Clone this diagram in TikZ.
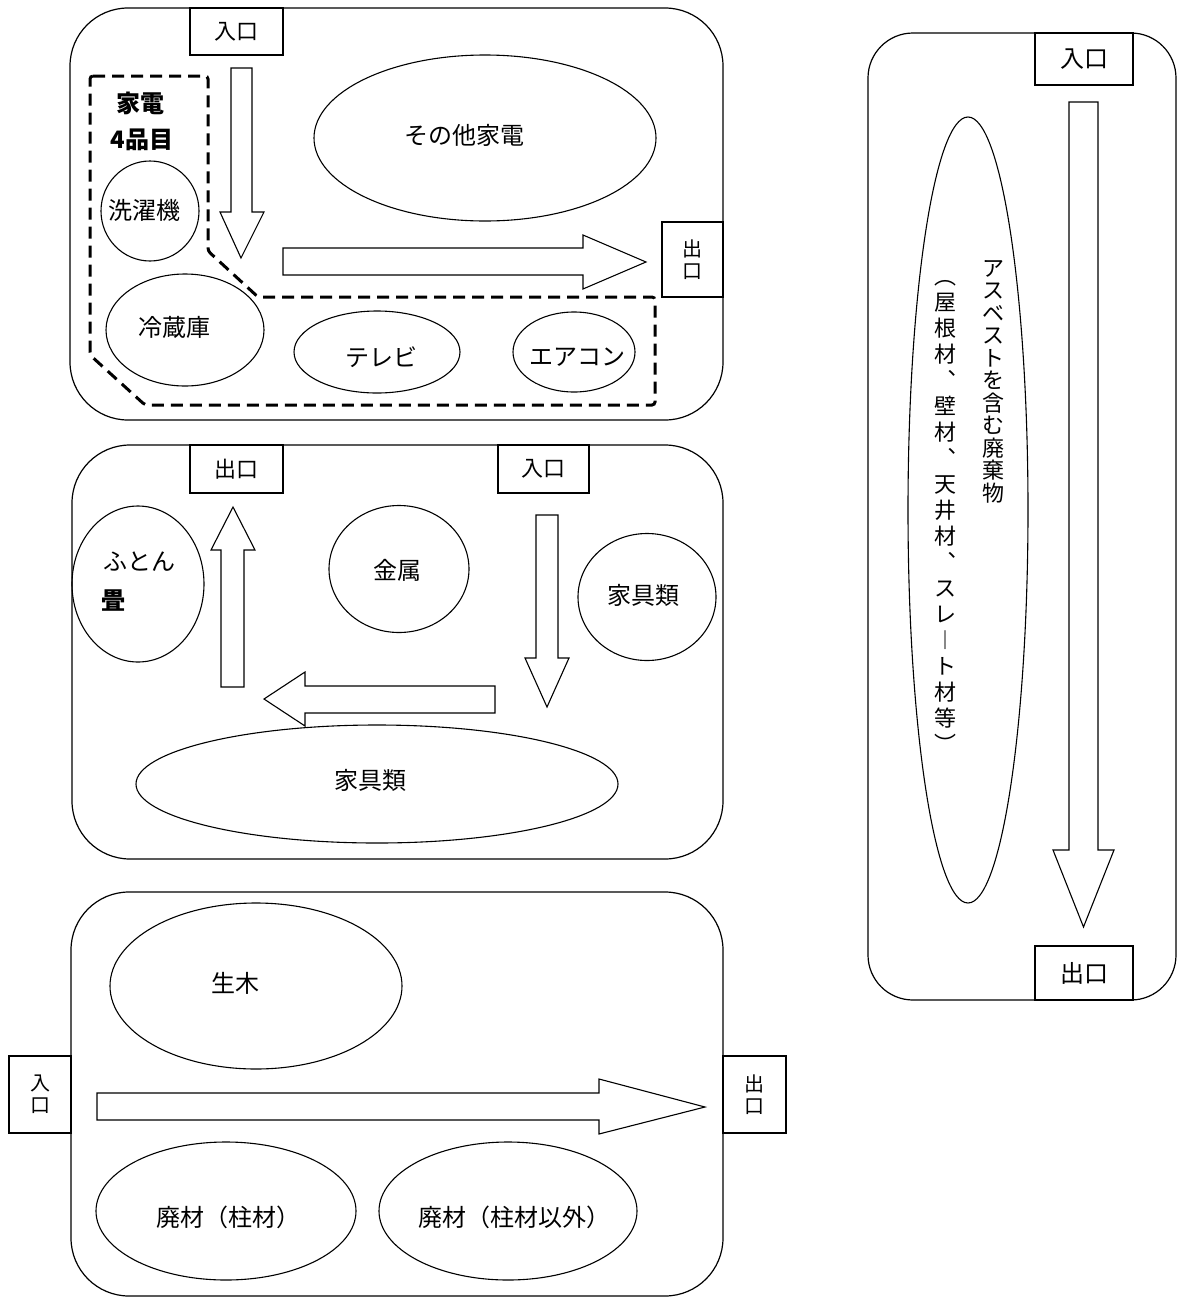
\documentclass[tikz,border=0pt]{standalone}
\usepackage{fontspec}
\setmainfont{Noto Sans CJK JP}
\usetikzlibrary{shapes.geometric}
\begin{document}
\begin{tikzpicture}[x=1pt,y=-1pt,
  panel/.style={draw, line width=1.2pt},
  gate/.style={draw, fill=white, line width=1.2pt, inner sep=0pt, font=\fontsize{22pt}{22pt}\selectfont, align=center},
  vgate/.style={gate, font=\fontsize{20pt}{22pt}\selectfont},
  blob/.style={draw, ellipse, line width=1.1pt, inner sep=0pt},
  lbl/.style={inner sep=0pt, font=\fontsize{24pt}{26pt}\selectfont, align=center},
  blbl/.style={inner sep=0pt, font=\fontsize{24pt}{26pt}\selectfont\bfseries, align=center},
  blockarrow/.style={draw, fill=white, line width=1.1pt, line join=miter},
  zone/.style={draw, line width=3pt, dash pattern=on 12pt off 7pt}
]
\useasboundingbox (0,0) rectangle (1179,1299);

% ---------- panel 1 ----------
\draw[panel, rounded corners=58pt] (70,8) rectangle (723,420);
\draw[zone, rounded corners=3pt] (90,76) -- (208,76) -- (208,251) -- (258,297) -- (655,297) -- (655,405) -- (145,405) -- (90,355) -- cycle;
\node[gate, minimum width=93pt, minimum height=47pt] (in1) at (236.5,31.5) {入口};
\node[vgate, minimum width=61pt, minimum height=75pt] (out1) at (692.5,259.5) {出\\口};
\draw[blockarrow] (231,68) -- (252,68) -- (252,212) -- (264,212) -- (241,258) -- (220,212) -- (231,212) -- cycle;
\draw[blockarrow] (283,248) -- (583,248) -- (583,235) -- (646,262) -- (583,289) -- (583,275) -- (283,275) -- cycle;
\node[blob, minimum width=342pt, minimum height=166pt] (sonota) at (485,138) {};
\node[lbl] (sonotaT) at (464,135) {その他家電};
\node[blbl] (kaden) at (140,103) {家電};
\node[blbl] (hinmoku) at (142,140) {4品目};
\node[blob, minimum width=98pt, minimum height=100pt] (sentaku) at (150,211) {};
\node[lbl] (sentakuT) at (144,210) {洗濯機};
\node[blob, minimum width=158pt, minimum height=112pt] (reizo) at (185,330) {};
\node[lbl] (reizoT) at (174,327) {冷蔵庫};
\node[blob, minimum width=166pt, minimum height=82pt] (tv) at (377,352) {};
\node[lbl] (tvT) at (381,357) {テレビ};
\node[blob, minimum width=122pt, minimum height=80pt] (aircon) at (574,352) {};
\node[lbl] (airconT) at (577,357) {エアコン};

% ---------- panel 2 ----------
\draw[panel, rounded corners=58pt] (72,445) rectangle (723,859);
\node[gate, minimum width=93pt, minimum height=48pt] (out2) at (236.5,469) {出口};
\node[gate, minimum width=91pt, minimum height=48pt] (in2) at (543.5,469) {入口};
\draw[blockarrow] (221,687) -- (244,687) -- (244,550) -- (255,550) -- (233,507) -- (211,550) -- (221,550) -- cycle;
\draw[blockarrow] (536,515) -- (558,515) -- (558,658) -- (569,658) -- (547,707) -- (525,658) -- (536,658) -- cycle;
\draw[blockarrow] (495,686) -- (495,713) -- (305,713) -- (305,726) -- (264,699) -- (305,672) -- (305,686) -- cycle;
\node[blob, minimum width=132pt, minimum height=156pt] (futon) at (138,584) {};
\node[lbl] (futonT) at (139,562) {ふとん};
\node[blbl, anchor=west] (tatami) at (101,601) {畳};
\node[blob, minimum width=140pt, minimum height=127pt] (kinzoku) at (399,569) {};
\node[lbl] (kinzokuT) at (397,570) {金属};
\node[blob, minimum width=138pt, minimum height=127pt] (kagu1) at (647,597) {};
\node[lbl] (kagu1T) at (643,595) {家具類};
\node[blob, minimum width=482pt, minimum height=118pt] (kagu2) at (377,784) {};
\node[lbl] (kagu2T) at (370,780) {家具類};

% ---------- panel 3 ----------
\draw[panel, rounded corners=58pt] (71,892) rectangle (723,1296);
\node[vgate, minimum width=62pt, minimum height=77pt] (in3) at (40,1094.5) {入\\口};
\node[vgate, minimum width=63pt, minimum height=77pt] (out3) at (754.5,1094.5) {出\\口};
\draw[blockarrow] (97,1093) -- (599,1093) -- (599,1079) -- (705,1107) -- (599,1134) -- (599,1120) -- (97,1120) -- cycle;
\node[blob, minimum width=292pt, minimum height=166pt] (namaki) at (256,986) {};
\node[lbl] (namakiT) at (235,983) {生木};
\node[blob, minimum width=260pt, minimum height=138pt] (haizai1) at (226,1211) {};
\node[lbl] (haizai1T) at (228,1217) {廃材（柱材）};
\node[blob, minimum width=258pt, minimum height=138pt] (haizai2) at (508,1211) {};
\node[lbl] (haizai2T) at (514,1217) {廃材（柱材以外）};

% ---------- panel 4 ----------
\draw[panel, rounded corners=45pt] (868,33) rectangle (1176,1000);
\node[gate, minimum width=98pt, minimum height=52pt, font=\fontsize{24pt}{24pt}\selectfont] (in4) at (1084,59) {入口};
\node[gate, minimum width=98pt, minimum height=54pt, font=\fontsize{24pt}{24pt}\selectfont] (out4) at (1084,973) {出口};
\draw[blockarrow] (1069,102) -- (1098,102) -- (1098,850) -- (1114,850) -- (1083.5,927) -- (1053,850) -- (1069,850) -- cycle;
\node[blob, minimum width=120pt, minimum height=786pt] (asb) at (968,510) {};
\node[lbl, anchor=north, font=\fontsize{22pt}{22.5pt}\selectfont] (asb1) at (993,260) {ア\\ス\\ベ\\ス\\ト\\を\\含\\む\\廃\\棄\\物};
\node[lbl, anchor=north, font=\fontsize{22pt}{26pt}\selectfont] (asb2) at (945,280) {︵\\屋\\根\\材\\︑\\壁\\材\\︑\\天\\井\\材\\︑\\ス\\レ\\︱\\ト\\材\\等\\︶};
\end{tikzpicture}
\end{document}
